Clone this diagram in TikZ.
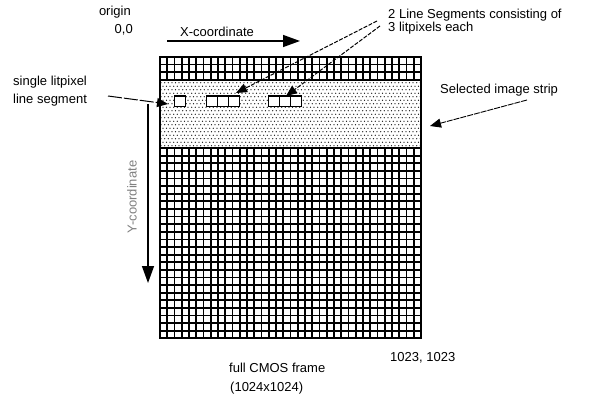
\documentclass[tikz,border=0pt]{standalone}
\usepackage{fontspec}
\setmainfont{Liberation Sans}
\usetikzlibrary{arrows.meta,patterns}
\pgfdeclarepatternformonly{stripdots}{\pgfqpoint{-1pt}{-1pt}}{\pgfqpoint{4.5pt}{8pt}}{\pgfqpoint{3.6pt}{7pt}}{%
  \pgfpathcircle{\pgfqpoint{0.9pt}{1.75pt}}{0.62pt}%
  \pgfpathcircle{\pgfqpoint{2.7pt}{5.25pt}}{0.62pt}%
  \pgfusepath{fill}}
\begin{document}
\begin{tikzpicture}[x=1pt,y=-1pt,
  lbl/.style={font=\fontsize{13}{15}\selectfont, inner sep=0pt},
  gridline/.style={line width=1.8pt, black},
  pixbox/.style={draw=black, fill=white, line width=1.5pt},
  bigarrow/.style={line width=1.4pt, -{Triangle[length=17pt,width=12pt]}},
  ptrarrow/.style={line width=1pt, dash pattern=on 4pt off 1.5pt, -{Triangle[length=11pt,width=9pt]}}]
\useasboundingbox (0,0) rectangle (591,403);
% full grid
\foreach \i in {0,...,36} \draw[gridline] ({160+\i*7.25},57) -- ({160+\i*7.25},338.2);
\foreach \j in {0,...,37} \draw[gridline] (160,{57+\j*7.6}) -- (421,{57+\j*7.6});
% selected strip
\fill[white] (160,79.8) rectangle (421,148.2);
\fill[pattern=stripdots, pattern color=black] (160,79.8) rectangle (421,148.2);
\draw[gridline] (160,79.8) -- (421,79.8);
\draw[gridline] (160,148.2) -- (421,148.2);
\draw[line width=2.4pt] (160,57) rectangle (421,338.2);
% litpixels
\draw[pixbox] (174.5,96) rectangle (185.5,106.5);
\draw[pixbox] (206.5,96) rectangle (217.5,106.5);
\draw[pixbox] (217.5,96) rectangle (228.5,106.5);
\draw[pixbox] (228.5,96) rectangle (239.5,106.5);
\draw[pixbox] (268.5,96) rectangle (279.5,106.5);
\draw[pixbox] (279.5,96) rectangle (290.5,106.5);
\draw[pixbox] (290.5,96) rectangle (301.5,106.5);
% texts
\node[lbl, anchor=base east] (origin1) at (131,16) {origin};
\node[lbl, anchor=base east] (origin2) at (133,34) {0,0};
\node[lbl, anchor=base west] (xlab) at (180,36.5) {X-coordinate};
\node[lbl, anchor=base west] (seg1) at (388,19) {2 Line Segments consisting of};
\node[lbl, anchor=base west] (seg2) at (388,32) {3 litpixels each};
\node[lbl, anchor=base west] (single1) at (13,86) {single litpixel};
\node[lbl, anchor=base west] (single2) at (13,104) {line segment};
\node[lbl, anchor=base west] (strip) at (440,94) {Selected image strip};
\node[lbl, text=gray, rotate=90] (ylab) at (132,197) {Y-coordinate};
\node[lbl, anchor=base west] (frame1) at (229,372) {full CMOS frame};
\node[lbl, anchor=base west] (frame2) at (230,391) {(1024x1024)};
\node[lbl, anchor=base west] (corner) at (390,361) {1023, 1023};
% arrows
\coordinate (xs) at (167,41);
\coordinate (xe) at (300,41);
\draw[bigarrow] (xs) -- (xe);
\coordinate (ys) at (148,104);
\coordinate (ye) at (148,283);
\draw[bigarrow] (ys) -- (ye);
\coordinate (s1) at (377,21);
\coordinate (t1) at (236,93);
\coordinate (s2) at (380,26);
\coordinate (t2) at (286,96);
\draw[ptrarrow] (s1) -- (t1);
\draw[ptrarrow] (s2) -- (t2);
\coordinate (s3) at (108,96);
\coordinate (t3) at (168,104);
\draw[ptrarrow, dash pattern=on 14pt off 2pt] (s3) -- (t3);
\coordinate (s4) at (527,100);
\coordinate (t4) at (430,126);
\draw[ptrarrow, line width=0.9pt, dash pattern=on 6pt off 1pt] (s4) -- (t4);
\end{tikzpicture}
\end{document}
